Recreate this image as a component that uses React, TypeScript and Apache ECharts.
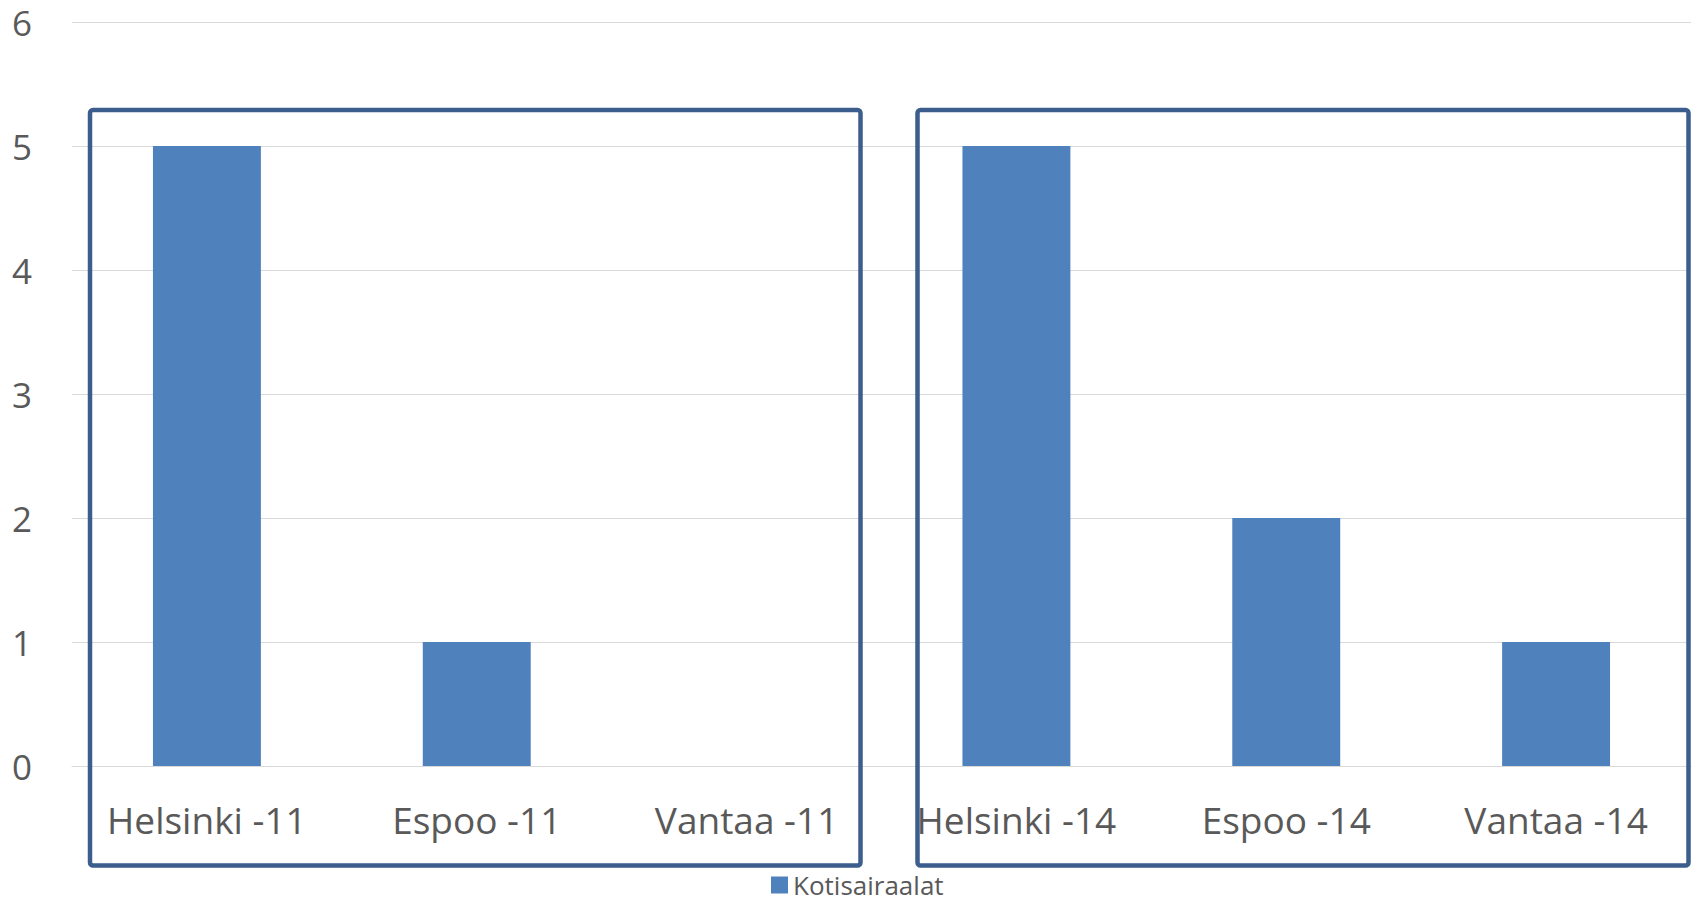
import React, { useEffect, useRef } from "react";
import * as echarts from "echarts";

const categories = ["Helsinki -11", "Espoo -11", "Vantaa -11", "Helsinki -14", "Espoo -14", "Vantaa -14"];
const seriesName = "Kotisairaalat";
const values = [5, 1, 0, 5, 2, 1];
const yTicks = { min: 0, max: 6, interval: 1 };

export default function App() {
  const ref = useRef<HTMLDivElement>(null);
  useEffect(() => {
    document.body.style.margin = "0";
    if (!ref.current) return;
    const chart = echarts.init(ref.current, undefined, { renderer: "svg" });
    const font = "'Open Sans', Calibri, sans-serif";
    const boxStyle = { fill: "none", stroke: "#3B5E8C", lineWidth: 4.5 };
    chart.setOption({
      animation: false,
      backgroundColor: "#ffffff",
      textStyle: { fontFamily: font },
      grid: { left: 72, right: 5, top: 22, bottom: 137, containLabel: false },
      legend: {
        data: [seriesName],
        left: 771,
        top: 872,
        padding: 0,
        itemWidth: 17,
        itemHeight: 17,
        itemGap: 6,
        icon: "rect",
        textStyle: { fontSize: 26, color: "#595959", fontFamily: font },
      },
      xAxis: {
        type: "category",
        data: categories,
        axisLine: { show: true, lineStyle: { color: "#D9D9D9", width: 1 } },
        axisTick: { show: false },
        axisLabel: { fontSize: 37, color: "#595959", margin: 35, fontFamily: font },
      },
      yAxis: {
        type: "value",
        min: yTicks.min,
        max: yTicks.max,
        interval: yTicks.interval,
        axisLine: { show: false },
        axisTick: { show: false },
        splitLine: { lineStyle: { color: "#D9D9D9", width: 1 } },
        axisLabel: { fontSize: 35, color: "#595959", margin: 40, fontFamily: font },
      },
      series: [
        {
          name: seriesName,
          type: "bar",
          data: values,
          barWidth: "40%",
          itemStyle: { color: "#4F81BD" },
        },
      ],
      graphic: [
        { type: "rect", shape: { x: 90, y: 110, width: 770.5, height: 755.5, r: 3 }, style: boxStyle, z: 10 },
        { type: "rect", shape: { x: 917.5, y: 110, width: 771, height: 755.5, r: 3 }, style: boxStyle, z: 10 },
      ],
    });
    return () => chart.dispose();
  }, []);
  return <div ref={ref} style={{ width: 1696, height: 903 }} />;
}
